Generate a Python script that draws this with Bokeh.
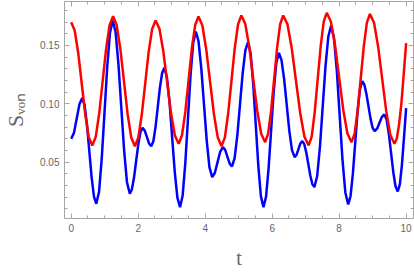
from bokeh.plotting import figure
from bokeh.models import (LinearAxis, Range1d, SingleIntervalTicker,
                          NumeralTickFormatter, CustomJSTickFormatter)
from bokeh.embed import file_html
from bokeh.resources import INLINE

# ---- data ----
red_t = [0.0, 0.105, 0.21, 0.315, 0.42, 0.525,
         0.63, 0.733, 0.837, 0.94, 1.043, 1.147,
         1.25, 1.358, 1.467, 1.575, 1.683, 1.792,
         1.90, 2.003, 2.107, 2.21, 2.313, 2.417,
         2.52, 2.635, 2.75, 2.865, 2.98, 3.095,
         3.21, 3.308, 3.407, 3.505, 3.603, 3.702,
         3.80, 3.915, 4.03, 4.145, 4.26, 4.375,
         4.49, 4.588, 4.687, 4.785, 4.883, 4.982,
         5.08, 5.198, 5.317, 5.435, 5.553, 5.672,
         5.79, 5.88, 5.97, 6.06, 6.15, 6.24,
         6.33, 6.457, 6.583, 6.71, 6.837, 6.963,
         7.09, 7.18, 7.27, 7.36, 7.45, 7.54,
         7.63, 7.753, 7.877, 8.0, 8.123, 8.247,
         8.37, 8.462, 8.553, 8.645, 8.737, 8.828,
         8.92, 9.042, 9.163, 9.285, 9.407, 9.528,
         9.65, 9.72, 9.79, 9.86, 9.93, 10.0]
red_v = [0.170, 0.1629, 0.1436, 0.1172, 0.0907, 0.0714,
         0.0643, 0.0717, 0.0920, 0.1197, 0.1473, 0.1676,
         0.175, 0.1675, 0.1472, 0.1194, 0.0915, 0.0712,
         0.0637, 0.0709, 0.0906, 0.1176, 0.1445, 0.1642,
         0.1714, 0.1643, 0.1450, 0.1186, 0.0921, 0.0728,
         0.0657, 0.0730, 0.0930, 0.1203, 0.1476, 0.1676,
         0.1749, 0.1674, 0.1471, 0.1193, 0.0915, 0.0712,
         0.0637, 0.0712, 0.0917, 0.1197, 0.1477, 0.1682,
         0.1757, 0.1684, 0.1486, 0.1214, 0.0943, 0.0744,
         0.0671, 0.0744, 0.0943, 0.1214, 0.1486, 0.1684,
         0.1757, 0.1682, 0.1479, 0.1200, 0.0922, 0.0718,
         0.0643, 0.0719, 0.0927, 0.1212, 0.1496, 0.1704,
         0.178, 0.1706, 0.1503, 0.1226, 0.0948, 0.0745,
         0.0671, 0.0745, 0.0946, 0.1221, 0.1495, 0.1696,
         0.177, 0.1695, 0.1492, 0.1214, 0.0935, 0.0732,
         0.0657, 0.0701, 0.0824, 0.1009, 0.126, 0.152]

blue_t = [0.0, 0.0825, 0.165, 0.2475,
          0.33, 0.40, 0.47, 0.54, 0.61, 0.68,
          0.75, 0.832, 0.913, 0.995, 1.077, 1.158,
          1.24, 1.325, 1.41, 1.495, 1.58, 1.665,
          1.75, 1.813, 1.877, 1.94, 2.003, 2.067,
          2.13, 2.195, 2.26, 2.325,
          2.39, 2.455, 2.52, 2.585, 2.65, 2.715,
          2.78, 2.858, 2.937, 3.015, 3.093, 3.172,
          3.25, 3.328, 3.407, 3.485, 3.563, 3.642,
          3.72, 3.802, 3.883, 3.965, 4.047, 4.128,
          4.21, 4.29, 4.37, 4.45,
          4.53, 4.5975, 4.665, 4.7325,
          4.80, 4.88, 4.96, 5.04, 5.12, 5.20,
          5.28, 5.357, 5.433, 5.51, 5.587, 5.663,
          5.74, 5.817, 5.893, 5.97, 6.047, 6.123,
          6.20, 6.278, 6.357, 6.435, 6.513, 6.592,
          6.67, 6.7275, 6.785, 6.8425,
          6.90, 6.96, 7.02, 7.08, 7.14, 7.20,
          7.26, 7.343, 7.427, 7.51, 7.593, 7.677,
          7.76, 7.845, 7.93, 8.015, 8.10, 8.185,
          8.27, 8.34, 8.41, 8.48, 8.55, 8.62,
          8.69, 8.752, 8.813, 8.875, 8.937, 8.998,
          9.06, 9.1325, 9.205, 9.2775,
          9.35, 9.417, 9.483, 9.55, 9.617, 9.683,
          9.75, 9.8125, 9.875, 9.9375, 10.0]
blue_v = [0.070, 0.0751, 0.0875, 0.0999,
          0.105, 0.0989, 0.0823, 0.0597, 0.0370, 0.0204,
          0.0143, 0.0248, 0.0536, 0.0929, 0.1321, 0.1609,
          0.1714, 0.1615, 0.1343, 0.0971, 0.0600, 0.0328,
          0.0229, 0.0267, 0.0370, 0.0512, 0.0653, 0.0756,
          0.0794, 0.0771, 0.0716, 0.0660,
          0.0637, 0.0682, 0.0805, 0.0973, 0.1141, 0.1264,
          0.1309, 0.1229, 0.1010, 0.0711, 0.0413, 0.0194,
          0.0114, 0.0215, 0.0491, 0.0867, 0.1244, 0.1519,
          0.162, 0.1536, 0.1308, 0.0995, 0.0683, 0.0455,
          0.0371, 0.0409, 0.0500, 0.0591,
          0.0629, 0.0605, 0.0546, 0.0487,
          0.0463, 0.0534, 0.0730, 0.0996, 0.1263, 0.1458,
          0.1529, 0.1434, 0.1175, 0.0821, 0.0468, 0.0209,
          0.0114, 0.0203, 0.0445, 0.0776, 0.1106, 0.1348,
          0.1437, 0.1377, 0.1213, 0.0990, 0.0766, 0.0603,
          0.0543, 0.0563, 0.0612, 0.0660,
          0.068, 0.0654, 0.0581, 0.0483, 0.0384, 0.0312,
          0.0286, 0.0379, 0.0632, 0.0978, 0.1324, 0.1577,
          0.167, 0.1567, 0.1287, 0.0903, 0.0520, 0.0240,
          0.0137, 0.0208, 0.0401, 0.0666, 0.0930, 0.1123,
          0.1194, 0.1165, 0.1087, 0.0980, 0.0873, 0.0795,
          0.0766, 0.0787, 0.0838, 0.0888,
          0.0909, 0.0865, 0.0744, 0.0579, 0.0414, 0.0293,
          0.0249, 0.0310, 0.0479, 0.0716, 0.0963]

x_label = "t"
y_label = "S\u1d65\u2092\u2099"   # S with subscript "von"

AXIS_COL = "#a6a6a6"
TEXT_COL = "#666666"

p = figure(width=414, height=273, output_backend="svg", toolbar_location=None,
           x_range=Range1d(-0.2, 10.22), y_range=Range1d(0.0017, 0.1877),
           min_border_left=60, min_border_right=1, min_border_top=1,
           min_border_bottom=55)
p.grid.visible = False
p.outline_line_color = None
p.background_fill_color = "white"
p.border_fill_color = "white"

xt = SingleIntervalTicker(interval=2, num_minor_ticks=4)
yt = SingleIntervalTicker(interval=0.05, num_minor_ticks=5)


def style(ax, labels=True):
    ax.axis_line_color = AXIS_COL
    ax.axis_line_width = 1
    ax.major_tick_line_color = AXIS_COL
    ax.minor_tick_line_color = AXIS_COL
    ax.major_tick_in = 5
    ax.major_tick_out = 0
    ax.minor_tick_in = 3
    ax.minor_tick_out = 0
    if labels:
        ax.major_label_text_font = "Liberation Sans"
        ax.major_label_text_font_size = "10px"
        ax.major_label_text_color = TEXT_COL
        ax.major_label_standoff = 5
    else:
        ax.formatter = CustomJSTickFormatter(code="return ''")
        ax.major_label_standoff = 0


p.xaxis.ticker = xt
p.yaxis.ticker = yt
style(p.xaxis[0])
style(p.yaxis[0])
p.yaxis[0].formatter = NumeralTickFormatter(format="0.00")

for ax, lab, size, standoff in ((p.xaxis[0], x_label, "20px", 12),
                                (p.yaxis[0], y_label, "22px", 9)):
    ax.axis_label = lab
    ax.axis_label_text_font = "Liberation Serif"
    ax.axis_label_text_font_style = "normal"
    ax.axis_label_text_font_size = size
    ax.axis_label_text_color = TEXT_COL
    ax.axis_label_standoff = standoff

# rotate the y label so that it reads from bottom to top
if "axis_label_orientation" in p.yaxis[0].properties():
    p.yaxis[0].axis_label_orientation = "vertical"

top = LinearAxis(ticker=xt)
style(top, labels=False)
p.add_layout(top, "above")
right = LinearAxis(ticker=yt)
style(right, labels=False)
p.add_layout(right, "right")

p.line(blue_t, blue_v, line_color="#0000ff", line_width=2.5)
p.line(red_t, red_v, line_color="#ff0000", line_width=2.5)

open("out.html", "w").write(file_html(p, INLINE))
